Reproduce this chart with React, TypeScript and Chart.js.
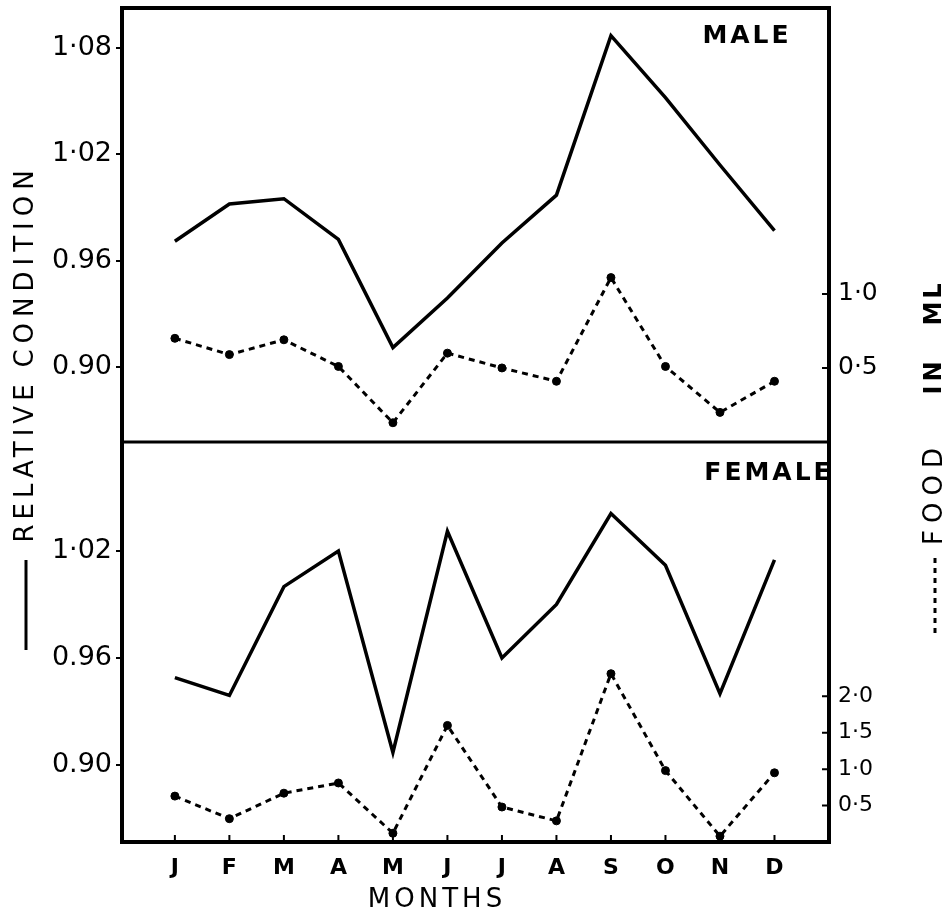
import React, { useEffect, useRef } from 'react';
import { Chart, registerables } from 'chart.js';

Chart.register(...registerables);

const months = ['J', 'F', 'M', 'A', 'M', 'J', 'J', 'A', 'S', 'O', 'N', 'D'];

const maleCondition = [0.971, 0.992, 0.995, 0.972, 0.911, 0.939, 0.97, 0.997, 1.087, 1.052, 1.014, 0.977];
const maleFood = [0.70, 0.59, 0.69, 0.51, 0.13, 0.60, 0.50, 0.41, 1.11, 0.51, 0.20, 0.41];
const femaleCondition = [0.949, 0.939, 1.0, 1.02, 0.907, 1.031, 0.96, 0.99, 1.041, 1.012, 0.94, 1.015];
const femaleFood = [0.63, 0.32, 0.67, 0.81, 0.12, 1.60, 0.48, 0.29, 2.31, 0.98, 0.08, 0.95];

const maleConditionTicks = [0.9, 0.96, 1.02, 1.08];
const maleConditionTickLabels = ['0.90', '0.96', '1·02', '1·08'];
const femaleConditionTicks = [0.9, 0.96, 1.02];
const femaleConditionTickLabels = ['0.90', '0.96', '1·02'];
const maleFoodTicks = [0.5, 1.0];
const maleFoodTickLabels = ['0·5', '1·0'];
const femaleFoodTicks = [0.5, 1.0, 1.5, 2.0];
const femaleFoodTickLabels = ['0·5', '1·0', '1·5', '2·0'];

const FONT = '"DejaVu Sans", sans-serif';

const toPoints = (arr: number[]) => arr.map((v, i) => ({ x: i, y: v }));

function vtext(ctx: CanvasRenderingContext2D, text: string, x: number, y: number, font: string, ls: string) {
  ctx.save();
  ctx.translate(x, y);
  ctx.rotate(-Math.PI / 2);
  ctx.font = font;
  (ctx as any).letterSpacing = ls;
  ctx.textAlign = 'center';
  ctx.textBaseline = 'middle';
  ctx.fillText(text, 0, 0);
  ctx.restore();
}

const decor = {
  id: 'decor',
  afterDraw(chart: any) {
    const ctx: CanvasRenderingContext2D = chart.ctx;
    const { left, right, top, bottom } = chart.chartArea;
    const divY = chart.scales.yMC.bottom;
    ctx.save();
    ctx.strokeStyle = '#000';
    ctx.fillStyle = '#000';

    // inner tick marks on the month axis and on the right-hand food axes
    ctx.lineWidth = 2;
    ctx.beginPath();
    months.forEach((_, i) => {
      const x = chart.scales.x.getPixelForValue(i);
      ctx.moveTo(x, bottom);
      ctx.lineTo(x, bottom - 7);
    });
    maleFoodTicks.forEach((v) => {
      const y = chart.scales.yMF.getPixelForValue(v);
      ctx.moveTo(right, y);
      ctx.lineTo(right - 7, y);
    });
    femaleFoodTicks.forEach((v) => {
      const y = chart.scales.yFF.getPixelForValue(v);
      ctx.moveTo(right, y);
      ctx.lineTo(right - 7, y);
    });
    ctx.stroke();

    ctx.lineWidth = 4;
    ctx.strokeRect(left, top, right - left, bottom - top);
    ctx.lineWidth = 3;
    ctx.beginPath();
    ctx.moveTo(left, divY);
    ctx.lineTo(right, divY);
    ctx.stroke();

    ctx.textAlign = 'center';
    ctx.textBaseline = 'middle';
    ctx.font = `bold 25px ${FONT}`;
    (ctx as any).letterSpacing = '3px';
    ctx.fillText('MALE', right - 82, top + 28);
    ctx.fillText('FEMALE', right - 60, divY + 31);

    ctx.font = `26px ${FONT}`;
    (ctx as any).letterSpacing = '4px';
    ctx.fillText('MONTHS', 437, 900);
    (ctx as any).letterSpacing = '0px';

    // left axis title with solid-line key
    vtext(ctx, 'CONDITION', 26, 266, `26px ${FONT}`, '6px');
    vtext(ctx, 'RELATIVE', 26, 461, `26px ${FONT}`, '5px');
    ctx.lineWidth = 3;
    ctx.setLineDash([]);
    ctx.beginPath();
    ctx.moveTo(26, 560);
    ctx.lineTo(26, 650);
    ctx.stroke();

    // right axis title with dotted-line key
    const rx = 935;
    vtext(ctx, 'ML', rx, 303, `bold 24px ${FONT}`, '3px');
    vtext(ctx, 'IN', rx, 376, `bold 24px ${FONT}`, '4px');
    vtext(ctx, 'FOOD', rx, 493, `26px ${FONT}`, '7px');
    ctx.lineWidth = 3;
    ctx.setLineDash([5, 5]);
    ctx.beginPath();
    ctx.moveTo(rx, 558);
    ctx.lineTo(rx, 638);
    ctx.stroke();
    ctx.restore();
  },
};

function yAxis(position: string, stack: string, weight: number, min: number, max: number, ticks: number[], labels: string[], size: number, width: number, outerTicks: boolean) {
  return {
    type: 'linear',
    position,
    stack,
    stackWeight: weight,
    min,
    max,
    afterBuildTicks: (s: any) => {
      s.ticks = ticks.map((v) => ({ value: v }));
    },
    afterFit: (s: any) => {
      s.width = width;
      s.paddingTop = 0;
      s.paddingBottom = 0;
    },
    border: { display: false },
    grid: outerTicks
      ? { drawOnChartArea: false, drawTicks: true, tickLength: 6, color: '#000', lineWidth: 2 }
      : { drawOnChartArea: false, drawTicks: false },
    ticks: {
      color: '#000',
      padding: outerTicks ? 4 : 9,
      font: { family: FONT, size },
      callback: (v: number) => {
        const i = ticks.findIndex((t) => Math.abs(t - v) < 1e-6);
        return i >= 0 ? labels[i] : '';
      },
    },
  };
}

export default function App() {
  const ref = useRef<HTMLCanvasElement | null>(null);
  useEffect(() => {
    if (!ref.current) return;
    const solid = { borderColor: '#000', borderWidth: 3.5, pointRadius: 0, tension: 0, fill: false };
    const dotted = {
      borderColor: '#000',
      borderWidth: 3,
      borderDash: [6, 5],
      pointRadius: 4,
      pointBackgroundColor: '#000',
      pointBorderColor: '#000',
      pointBorderWidth: 1,
      tension: 0,
      fill: false,
    };
    const chart = new Chart(ref.current, {
      type: 'line',
      data: {
        datasets: [
          { label: 'Male relative condition', data: toPoints(maleCondition), yAxisID: 'yMC', ...solid },
          { label: 'Male food in ml', data: toPoints(maleFood), yAxisID: 'yMF', ...dotted },
          { label: 'Female relative condition', data: toPoints(femaleCondition), yAxisID: 'yFC', ...solid },
          { label: 'Female food in ml', data: toPoints(femaleFood), yAxisID: 'yFF', ...dotted },
        ],
      } as any,
      options: {
        animation: false,
        responsive: false,
        maintainAspectRatio: false,
        layout: { padding: { top: 8, left: 0, right: 0, bottom: 0 } },
        plugins: { legend: { display: false }, tooltip: { enabled: false }, title: { display: false } },
        scales: {
          x: {
            type: 'linear',
            position: 'bottom',
            min: -0.97,
            max: 12.0,
            afterBuildTicks: (s: any) => {
              s.ticks = months.map((_, i) => ({ value: i }));
            },
            afterFit: (s: any) => {
              s.height = 77;
              s.paddingLeft = 0;
              s.paddingRight = 0;
            },
            border: { display: false },
            grid: { drawOnChartArea: false, drawTicks: false },
            ticks: {
              autoSkip: false,
              maxRotation: 0,
              color: '#000',
              padding: 13,
              font: { family: FONT, size: 22, weight: 'bold' },
              callback: (v: number) => months[v] ?? '',
            },
          },
          // stacked axes (order chosen so the male panel sits on top on both sides)
          yFC: yAxis('left', 'left', 400, 0.8568, 1.0811, femaleConditionTicks, femaleConditionTickLabels, 27, 122, true),
          yMC: yAxis('left', 'left', 434, 0.8577, 1.1026, maleConditionTicks, maleConditionTickLabels, 27, 122, true),
          yMF: yAxis('right', 'right', 434, 0, 2.93, maleFoodTicks, maleFoodTickLabels, 25, 122, false),
          yFF: yAxis('right', 'right', 400, 0, 5.49, femaleFoodTicks, femaleFoodTickLabels, 22, 122, false),
        } as any,
      },
      plugins: [decor],
    });
    return () => chart.destroy();
  }, []);
  return (
    <div style={{ position: 'absolute', left: 0, top: 0, width: 951, height: 919, background: '#fff' }}>
      <canvas ref={ref} width={951} height={919} style={{ display: 'block' }} />
    </div>
  );
}
